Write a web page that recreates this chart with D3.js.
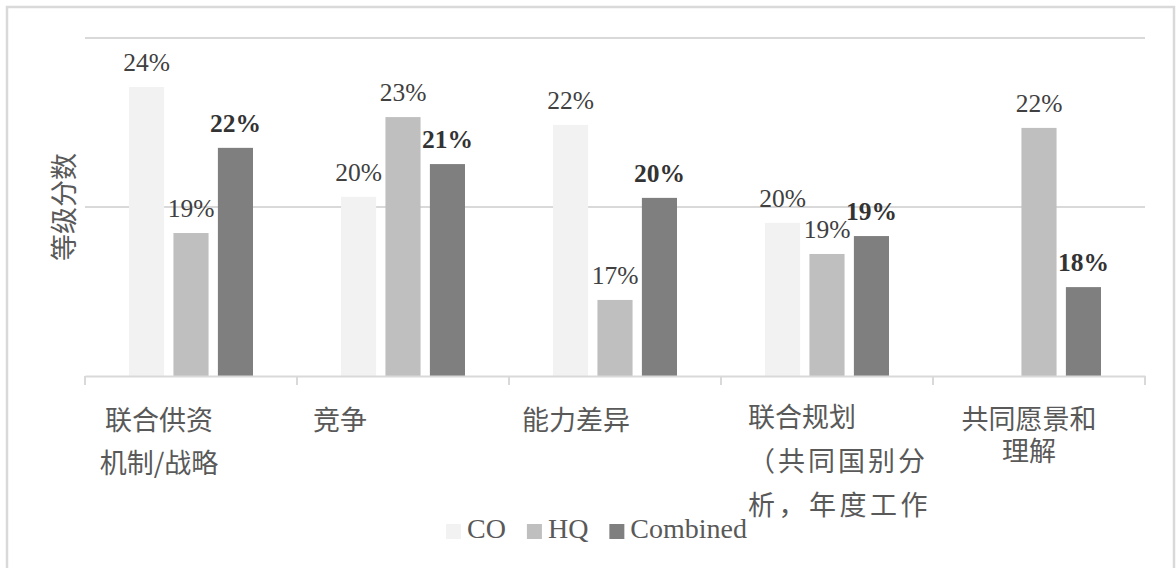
<!DOCTYPE html>
<html>
<head>
<meta charset="utf-8">
<script src="https://cdn.jsdelivr.net/npm/d3@7"></script>
<style>
  body { margin: 0; background: #fff; }
</style>
</head>
<body>
<div id="chart"></div>
<script>
// 数据
const categories = ["联合供资机制/战略", "竞争", "能力差异", "联合规划（共同国别分析，年度工作", "共同愿景和理解"];
const tickLines = [
    ["联合供资", "机制/战略"],
    ["竞争"],
    ["能力差异"],
    ["联合规划", "（共同国别分", "析，年度工作"],
    ["共同愿景和", "理解"]
];
const seriesNames = ["CO", "HQ", "Combined"];
const coValues = [0.2355, 0.2030, 0.2243, 0.1953, null];
const hqValues = [0.1923, 0.2266, 0.1725, 0.1861, 0.2234];
const combinedValues = [0.2175, 0.2127, 0.2027, 0.1914, 0.1763];
const yDomain = [0.15, 0.25];
const yTicks = [0.15, 0.20, 0.25];
const yTitle = "等级分数";

function drawChart() {
    const width = 1176;
    const height = 568;
    const plot = { left: 85, right: 1145, top: 38, bottom: 376 };

    const colors = { "CO": "#f2f2f2", "HQ": "#bfbfbf", "Combined": "#7f7f7f" };
    const textColor = "#595959";
    const gridColor = "#d9d9d9";
    const serif = "'Times New Roman', 'Liberation Serif', serif";
    const cjk = "'Noto Sans CJK SC', 'Noto Sans', sans-serif";

    d3.select("#chart").selectAll("*").remove();

    const svg = d3.select("#chart")
        .append("svg")
        .attr("width", width)
        .attr("height", height);

    // 外框
    svg.append("rect")
        .attr("x", 7)
        .attr("y", 7)
        .attr("width", 1167)
        .attr("height", 620)
        .attr("fill", "#fff")
        .attr("stroke", gridColor)
        .attr("stroke-width", 2.5);

    const rows = categories.map((c, i) => ({
        category: c,
        CO: coValues[i],
        HQ: hqValues[i],
        Combined: combinedValues[i]
    }));

    const x0 = d3.scaleBand()
        .domain(categories)
        .range([plot.left, plot.right])
        .padding(0);

    const x1 = d3.scaleBand()
        .domain(seriesNames)
        .range([x0.bandwidth() / 2 - 62, x0.bandwidth() / 2 + 62])
        .paddingInner(0.21);

    const y = d3.scaleLinear()
        .domain(yDomain)
        .range([plot.bottom, plot.top]);

    // 网格线
    svg.append("g")
        .selectAll("line")
        .data(yTicks.slice(1))
        .enter()
        .append("line")
        .attr("x1", plot.left)
        .attr("x2", plot.right)
        .attr("y1", d => y(d))
        .attr("y2", d => y(d))
        .attr("stroke", gridColor)
        .attr("stroke-width", 2);

    // 柱子
    const groups = svg.selectAll(".group")
        .data(rows)
        .enter()
        .append("g")
        .attr("class", "group")
        .attr("transform", d => `translate(${x0(d.category)},0)`);

    const cells = groups.selectAll(".cell")
        .data(d => seriesNames
            .filter(s => d[s] != null)
            .map(s => ({ key: s, value: d[s] })))
        .enter()
        .append("g")
        .attr("class", "cell");

    cells.append("rect")
        .attr("x", d => x1(d.key))
        .attr("width", x1.bandwidth())
        .attr("y", d => y(d.value))
        .attr("height", d => y(yDomain[0]) - y(d.value))
        .attr("fill", d => colors[d.key]);

    // 数值标签
    cells.append("text")
        .attr("x", d => x1(d.key) + x1.bandwidth() / 2)
        .attr("y", d => y(d.value) - 16)
        .attr("text-anchor", "middle")
        .attr("font-family", serif)
        .attr("font-size", "25.5px")
        .attr("font-weight", d => d.key === "Combined" ? "bold" : "normal")
        .attr("fill", d => d.key === "Combined" ? "#333" : "#404040")
        .text(d => d3.format(".0%")(d.value));

    // X轴
    const xAxis = svg.append("g")
        .attr("transform", `translate(0,${plot.bottom})`)
        .call(d3.axisBottom(x0)
            .tickValues([])
            .tickSizeOuter(0));
    xAxis.select(".domain")
        .attr("stroke", gridColor)
        .attr("stroke-width", 2);

    // 分类边界刻度
    const edges = categories.map(c => x0(c)).concat([plot.right]);
    xAxis.selectAll(".edge")
        .data(edges)
        .enter()
        .append("line")
        .attr("class", "edge")
        .attr("x1", d => d)
        .attr("x2", d => d)
        .attr("y1", 0)
        .attr("y2", 9)
        .attr("stroke", gridColor)
        .attr("stroke-width", 2);

    // 分类标签 (每个分类的排版)
    const tickLayout = [
        { anchor: "middle", dx: 74, lh: 43, y: 54, ls: [0, 0] },
        { anchor: "start", dx: 16, lh: 43, y: 54, ls: [0] },
        { anchor: "start", dx: 13, lh: 43, y: 54, ls: [0] },
        { anchor: "start", dx: 27, lh: 44, y: 51, ls: [0, 3, 3.5] },
        { anchor: "middle", dx: 96, lh: 32, y: 53, ls: [0, 0] }
    ];

    categories.forEach((c, i) => {
        const lay = tickLayout[i];
        const t = svg.append("text")
            .attr("x", x0(c) + lay.dx)
            .attr("y", plot.bottom + lay.y)
            .attr("text-anchor", lay.anchor)
            .attr("font-family", cjk)
            .attr("font-size", "27px")
            .attr("fill", textColor);
        tickLines[i].forEach((line, j) => {
            t.append("tspan")
                .attr("x", x0(c) + lay.dx)
                .attr("dy", j === 0 ? 0 : lay.lh)
                .attr("letter-spacing", lay.ls[j] + "px")
                .text(line);
        });
    });

    // Y轴标题
    svg.append("text")
        .attr("transform", `translate(62,${(plot.top + plot.bottom) / 2}) rotate(-90)`)
        .attr("text-anchor", "middle")
        .attr("dominant-baseline", "central")
        .attr("font-family", cjk)
        .attr("font-size", "27px")
        .attr("fill", textColor)
        .text(yTitle);

    // 图例
    const legend = svg.append("g")
        .attr("transform", "translate(446, 0)");
    let lx = 0;
    seriesNames.forEach(s => {
        legend.append("rect")
            .attr("x", lx)
            .attr("y", 524)
            .attr("width", 15)
            .attr("height", 15)
            .attr("fill", colors[s]);
        const txt = legend.append("text")
            .attr("x", lx + 21)
            .attr("y", 538)
            .attr("font-family", serif)
            .attr("font-size", "28px")
            .attr("fill", textColor)
            .text(s);
        lx += 21 + txt.node().getComputedTextLength() + 21;
    });
}

window.addEventListener('load', drawChart);
</script>
</body>
</html>
